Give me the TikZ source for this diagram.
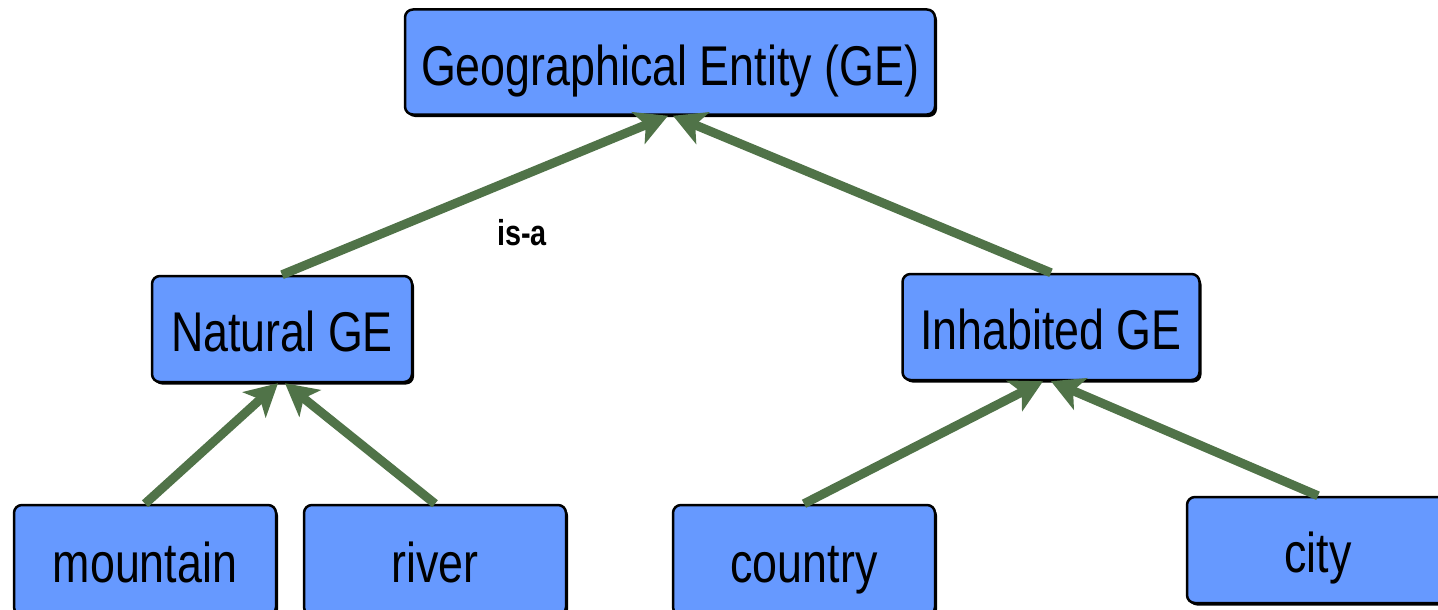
\documentclass[tikz,border=0pt]{standalone}
\usepackage{fontspec}
\setmainfont{Liberation Sans}[FakeStretch=0.8]
\usetikzlibrary{arrows.meta,shadows}
\definecolor{boxblue}{RGB}{102,153,255}
\definecolor{linkgreen}{RGB}{80,115,72}
\tikzset{
  concept/.style={draw=black, line width=2.5pt, fill=boxblue, rounded corners=8pt,
    general shadow={fill=black, shadow xshift=2pt, shadow yshift=-2.5pt},
    font=\fontsize{56}{60}\selectfont, inner sep=0pt, anchor=center,
    text height=50pt, text depth=6pt},
  isa/.style={draw=linkgreen, line width=9pt,
    -{Stealth[length=32pt,width=34pt,inset=8pt]}},
}
\begin{document}
\begin{tikzpicture}[x=1pt,y=-1pt]
  \useasboundingbox (0,0) rectangle (1438,610);
  \clip (0,0) rectangle (1438,610);
  % taxonomy boxes
  \node[concept, minimum width=530pt, minimum height=105pt, text height=53pt] (ge) at (670,62) {Geographical Entity (GE)};
  \node[concept, minimum width=260pt, minimum height=106pt] (nat) at (282,329) {Natural GE};
  \node[concept, minimum width=297pt, minimum height=106pt] (inh) at (1051,327) {Inhabited GE};
  \node[concept, minimum width=262pt, minimum height=110pt] (mtn) at (145,560) {mountain};
  \node[concept, minimum width=262pt, minimum height=110pt] (riv) at (435,560) {river};
  \node[concept, minimum width=262pt, minimum height=110pt] (cty) at (804,560) {country};
  \node[concept, minimum width=262pt, minimum height=106pt] (city) at (1318,550) {city};
  % is-a links, child to parent
  \draw[isa] (nat.north) -- ([xshift=-2pt]ge.south);
  \draw[isa] (inh.north) -- ([xshift=3pt]ge.south);
  \draw[isa] (mtn.north) -- ([xshift=-4pt]nat.south);
  \draw[isa] (riv.north) -- ([xshift=3pt]nat.south);
  \draw[isa] (cty.north) -- ([xshift=-8pt]inh.south);
  \draw[isa] (city.north) -- ([xshift=0pt]inh.south);
  \node[font=\fontsize{36}{40}\selectfont\bfseries] (lbl) at (522,233) {is-a};
\end{tikzpicture}
\end{document}
